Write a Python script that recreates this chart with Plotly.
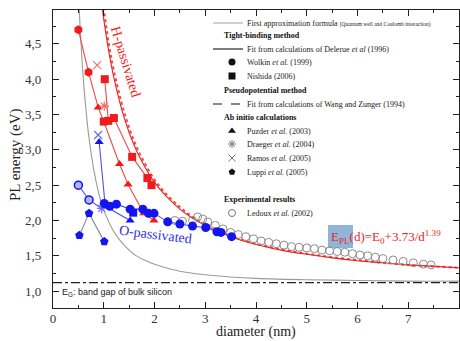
import plotly.graph_objects as go

# ---------------- data ----------------
# first approximation formula (gray curve)
gray_d = [0.49, 0.5, 0.55, 0.6, 0.7, 0.8, 0.9, 1.0, 1.2, 1.4, 1.6, 1.8, 2.0, 2.5, 3.0, 3.5, 4.0, 5.0, 6.0, 7.0, 8.0]
gray_E = [5.40, 5.24, 4.53, 3.98, 3.22, 2.73, 2.39, 2.15, 1.84, 1.65, 1.52, 1.44, 1.38, 1.28, 1.23, 1.20, 1.18, 1.16, 1.15, 1.14, 1.14]

# fit E_PL(d) (red solid)
fitA_d = [0.95, 1.0, 1.1, 1.2, 1.4, 1.6, 1.8, 2.0, 2.25, 2.5, 2.75, 3.0, 3.5, 4.0, 4.5, 5.0, 5.5, 6.0, 6.5, 7.0, 7.5, 8.0]
fitA_E = [5.13, 4.85, 4.39, 4.02, 3.46, 3.06, 2.77, 2.54, 2.33, 2.16, 2.03, 1.93, 1.77, 1.66, 1.58, 1.52, 1.47, 1.43, 1.40, 1.37, 1.35, 1.33]
# second fit (red dotted)
fitB_d = [0.98, 1.0, 1.1, 1.2, 1.4, 1.6, 1.8, 2.0, 2.25, 2.5, 2.75, 3.0, 3.5, 4.0, 4.5, 5.0, 5.5, 6.0, 6.5, 7.0, 7.5, 8.0]
fitB_E = [5.10, 5.00, 4.50, 4.12, 3.54, 3.12, 2.82, 2.58, 2.36, 2.19, 2.05, 1.95, 1.78, 1.67, 1.59, 1.53, 1.48, 1.44, 1.40, 1.37, 1.35, 1.33]

# band gap of bulk silicon
Eg = 1.12

# H-passivated (red)
h_luppi_d = [0.50, 0.70]
h_luppi_E = [4.70, 4.10]
h_puzder_d = [0.89, 1.31, 1.48, 1.79, 1.99]
h_puzder_E = [3.60, 2.80, 2.51, 2.10, 2.00]
h_wolkin_d = [1.00, 1.09]
h_wolkin_E = [3.40, 3.41]
h_nishida_d = [1.02, 1.20, 1.56, 1.86, 1.94]
h_nishida_E = [4.00, 3.45, 2.90, 2.60, 2.50]
h_draeger_d = [1.01]
h_draeger_E = [3.62]
h_ramos_d = [0.87]
h_ramos_E = [4.20]

# O-passivated (blue)
o_ramos_d = [0.89]
o_ramos_E = [3.21]
o_puzder_d = [0.91, 1.03, 1.52]
o_puzder_E = [3.11, 2.20, 2.00]
o_draeger_d = [0.96]
o_draeger_E = [2.17]
o_luppi_d = [0.52, 0.71, 1.01]
o_luppi_E = [1.79, 2.10, 1.70]
o_half_d = [0.50, 0.71]
o_half_E = [2.50, 2.29]
o_wolkin_d = [1.01, 1.12, 1.25, 1.52, 1.77, 1.88, 1.99, 2.26, 2.50, 2.75, 3.01, 3.23, 3.31, 3.52]
o_wolkin_E = [2.24, 2.20, 2.23, 2.16, 2.16, 2.10, 2.10, 1.98, 1.95, 1.92, 1.90, 1.84, 1.83, 1.77]
o_nishida_d = [1.58]
o_nishida_E = [2.11]

# Ledoux et al. experimental (open circles)
led_d = [2.40, 2.55, 2.75, 2.85, 2.95, 3.05, 3.20, 3.35, 3.50, 3.65, 3.80, 3.95, 4.10, 4.25, 4.40, 4.55,
         4.70, 4.85, 5.00, 5.15, 5.30, 5.45, 5.60, 5.75, 5.90, 6.05, 6.20, 6.35, 6.50, 6.70, 6.90, 7.10, 7.30, 7.45]
led_E = [2.00, 1.99, 2.00, 2.05, 2.02, 1.98, 1.93, 1.88, 1.83, 1.80, 1.77, 1.74, 1.71, 1.69, 1.67, 1.65,
         1.63, 1.62, 1.61, 1.60, 1.58, 1.57, 1.56, 1.55, 1.53, 1.51, 1.50, 1.48, 1.46, 1.44, 1.42, 1.40, 1.38, 1.37]

x_ticks = [0, 1, 2, 3, 4, 5, 6, 7, 8]
y_ticks = [1.0, 1.5, 2.0, 2.5, 3.0, 3.5, 4.0, 4.5]

# legend rows: (kind, label, style)
legend_rows = [
    ("line", "First approximation formula <span style='font-size:5.5px'>(Quantum well and Coulomb interaction)</span>", "gray"),
    ("header", "Tight-binding method", None),
    ("line", "Fit from calculations of Delerue <i>et al</i> (1996)", "solid"),
    ("marker", "Wolkin <i>et al.</i> (1999)", "circle"),
    ("marker", "Nishida (2006)", "square"),
    ("header", "Pseudopotential method", None),
    ("line", "Fit from calculations of Wang and Zunger (1994)", "dash"),
    ("header", "Ab initio calculations", None),
    ("marker", "Puzder <i>et al.</i> (2003)", "triangle-up"),
    ("marker", "Draeger <i>et al.</i> (2004)", "asterisk-open"),
    ("marker", "Ramos <i>et al.</i> (2005)", "x-thin-open"),
    ("marker", "Luppi <i>et al.</i> (2005)", "pentagon"),
    ("gap", "", None),
    ("header", "Experimental results", None),
    ("marker", "Ledoux <i>et al.</i> (2002)", "circle-open"),
]
legend_y = [23, 35, 49, 62, 76, 90, 104, 117, 131, 144, 158, 172, 186, 199, 213]

RED = "#f01c1c"
RED_L = "#f04848"
BLUE = "#1414f0"
BLUE_L = "#5050f5"
SERIF = "Liberation Serif"

fig = go.Figure()

# curves
fig.add_trace(go.Scatter(x=gray_d, y=gray_E, mode="lines", line=dict(color="#9a9a9a", width=1.1, shape="spline"), showlegend=False))
fig.add_trace(go.Scatter(x=[0, 8], y=[Eg, Eg], mode="lines", line=dict(color="#222", width=1.1, dash="dashdot"), showlegend=False))
fig.add_trace(go.Scatter(x=fitB_d, y=fitB_E, mode="lines", line=dict(color=RED_L, width=2, dash="dot", shape="spline"), showlegend=False))
fig.add_trace(go.Scatter(x=fitA_d, y=fitA_E, mode="lines", line=dict(color=RED, width=1.1, shape="spline"), showlegend=False))

# connecting lines (H)
p1 = sorted(zip(h_luppi_d + h_puzder_d + h_wolkin_d[:1], h_luppi_E + h_puzder_E + h_wolkin_E[:1]))
fig.add_trace(go.Scatter(x=[p[0] for p in p1], y=[p[1] for p in p1], mode="lines", line=dict(color=RED_L, width=1.1), showlegend=False))
p2 = [(h_nishida_d[0], h_nishida_E[0]), (h_wolkin_d[1], h_wolkin_E[1])] + list(zip(h_nishida_d[1:], h_nishida_E[1:]))
fig.add_trace(go.Scatter(x=[p[0] for p in p2], y=[p[1] for p in p2], mode="lines", line=dict(color=RED_L, width=1.1), showlegend=False))

# connecting lines (O)
fig.add_trace(go.Scatter(x=o_luppi_d, y=o_luppi_E, mode="lines", line=dict(color="#8a8a8a", width=1.1), showlegend=False))
fig.add_trace(go.Scatter(x=o_half_d + o_draeger_d, y=o_half_E + o_draeger_E, mode="lines", line=dict(color=BLUE_L, width=1.1), showlegend=False))
fig.add_trace(go.Scatter(x=o_puzder_d, y=o_puzder_E, mode="lines", line=dict(color=BLUE_L, width=1.1), showlegend=False))
fig.add_trace(go.Scatter(x=o_wolkin_d, y=o_wolkin_E, mode="lines", line=dict(color=BLUE_L, width=1.1), showlegend=False))

# Ledoux
fig.add_trace(go.Scatter(x=led_d, y=led_E, mode="markers",
                         marker=dict(symbol="circle-open", size=8, color="#8c8c8c", line=dict(width=1)), showlegend=False))

def pts(d, e, sym, color, size=8, lw=0):
    fig.add_trace(go.Scatter(x=d, y=e, mode="markers",
                             marker=dict(symbol=sym, size=size, color=color, line=dict(width=lw, color=color)),
                             showlegend=False))

# H markers
pts(h_luppi_d, h_luppi_E, "hexagon", RED, 9)
pts(h_puzder_d, h_puzder_E, "triangle-up", RED, 8)
pts(h_wolkin_d, h_wolkin_E, "square", RED, 8)
pts(h_nishida_d, h_nishida_E, "square", RED, 8)
pts(h_draeger_d, h_draeger_E, "asterisk-open", "#f07070", 8, 1.2)
pts(h_ramos_d, h_ramos_E, "x-thin-open", "#f07070", 8, 1.2)
# O markers
pts(o_ramos_d, o_ramos_E, "x-thin-open", "#6a6af5", 8, 1.2)
pts(o_puzder_d, o_puzder_E, "triangle-up", BLUE, 8)
pts(o_draeger_d, o_draeger_E, "asterisk-open", "#6a6af5", 8, 1.2)
pts(o_luppi_d, o_luppi_E, "pentagon", BLUE, 9)
fig.add_trace(go.Scatter(x=o_half_d, y=o_half_E, mode="markers",
                         marker=dict(symbol="circle", size=8, color="#aab4ff", line=dict(width=1.5, color=BLUE)), showlegend=False))
pts(o_wolkin_d, o_wolkin_E, "circle", BLUE, 9)
pts(o_nishida_d, o_nishida_E, "square", BLUE, 8)

# ---------------- legend (drawn in pixel-space overlay axes) ----------------
lx0, lx1, mx, tx, hx = 213, 243, 232, 245, 222
for (kind, label, style), yy in zip(legend_rows, legend_y):
    if kind == "header":
        fig.add_annotation(x=hx, y=yy, xref="x2", yref="y2", text="<b>" + label + "</b>", showarrow=False,
                           xanchor="left", yanchor="middle", font=dict(family=SERIF, size=8, color="#111"))
        continue
    if kind == "gap":
        continue
    if kind == "line":
        col = "#aaaaaa" if style == "gray" else "#111"
        dash = "dash" if style == "dash" else "solid"
        fig.add_trace(go.Scatter(x=[lx0, lx1], y=[yy, yy], xaxis="x2", yaxis="y2", mode="lines",
                                 line=dict(color=col, width=1.1, dash=dash), showlegend=False, hoverinfo="skip"))
    else:
        opn = style.endswith("open")
        col = "#777" if opn else "#111"
        fig.add_trace(go.Scatter(x=[mx], y=[yy], xaxis="x2", yaxis="y2", mode="markers",
                                 marker=dict(symbol=style, size=7, color=col, line=dict(width=1 if opn else 0, color=col)),
                                 showlegend=False, hoverinfo="skip"))
    fig.add_annotation(x=tx, y=yy, xref="x2", yref="y2", text=label, showarrow=False,
                       xanchor="left", yanchor="middle", font=dict(family=SERIF, size=8, color="#222"))

# formula box + text
fig.add_shape(type="rect", xref="x2", yref="y2", x0=328, x1=353, y0=225, y1=248,
              fillcolor="#8fb6d8", line=dict(width=0), layer="below")
fig.add_annotation(x=329, y=237, xref="x2", yref="y2", showarrow=False, xanchor="left", yanchor="middle",
                   text="E<sub>PL</sub>(d)=E<sub>0</sub>+3.73/d<sup>1.39</sup>",
                   font=dict(family=SERIF, size=13, color=RED))

# labels
fig.add_annotation(x=126, y=61, xref="x2", yref="y2", text="H-passivated", showarrow=False, textangle=73,
                   font=dict(family=SERIF, size=14, color=RED))
fig.add_annotation(x=155, y=234, xref="x2", yref="y2", text="O-passivated", showarrow=False, textangle=7,
                   font=dict(family=SERIF, size=14, color="#3030e0"))
fig.add_annotation(x=60, y=292, xref="x2", yref="y2", text="E<sub>G</sub>: band gap of bulk silicon", showarrow=False,
                   xanchor="left", yanchor="middle", font=dict(family="Liberation Sans", size=9, color="#222"))

# axis titles (paper coordinates; plot area is 53..459 x 10..308 px)
fig.add_annotation(x=(256 - 53) / 406, y=(308 - 341) / 298, xref="paper", yref="paper", text="diameter (nm)",
                   showarrow=False, xanchor="center", yanchor="bottom", borderpad=0,
                   font=dict(family=SERIF, size=14, color="#222"))
fig.add_annotation(x=(15 - 53) / 406, y=(308 - 155) / 298, xref="paper", yref="paper", text="PL energy (eV)",
                   showarrow=False, textangle=-90, xanchor="center", yanchor="middle",
                   font=dict(family=SERIF, size=15, color="#222"))

axis_common = dict(showline=True, linecolor="#222", linewidth=1.3, mirror="ticks", ticks="inside",
                   ticklen=6, tickwidth=1.1, tickcolor="#222", showgrid=False, zeroline=False,
                   tickfont=dict(family=SERIF, size=13, color="#333"))
fig.update_layout(
    width=460, height=341, margin=dict(l=53, r=1, t=10, b=33),
    paper_bgcolor="white", plot_bgcolor="white", separators=",.",
    xaxis=dict(range=[0, 8], tickvals=x_ticks, ticklabelstandoff=-2,
               minor=dict(dtick=0.5, ticks="inside", ticklen=3, tickcolor="#222"), **axis_common),
    yaxis=dict(range=[0.76, 4.98], tickvals=y_ticks, tickformat=".1f", ticklabelstandoff=8,
               minor=dict(dtick=0.25, ticks="inside", ticklen=3, tickcolor="#222"), **axis_common),
    xaxis2=dict(overlaying="x", range=[53, 459], visible=False, anchor="y2"),
    yaxis2=dict(overlaying="y", range=[308, 10], visible=False, anchor="x2"),
)
fig.update_xaxes(tickfont=dict(size=12), selector=dict(anchor="y"))

fig.write_html("out.html")
